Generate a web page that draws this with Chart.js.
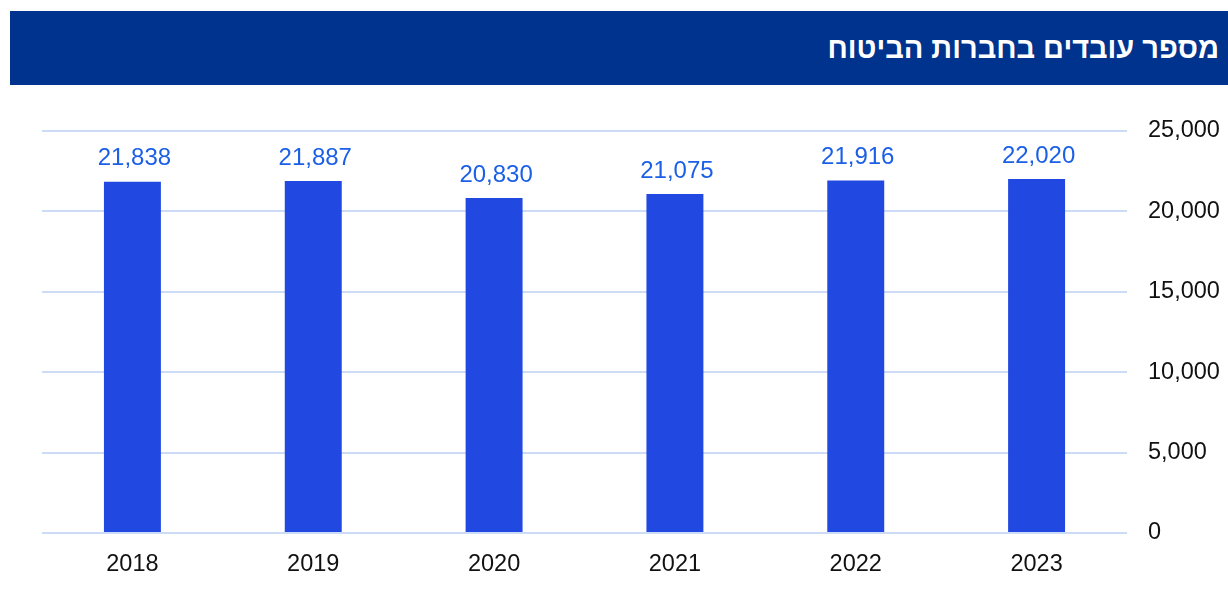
<!DOCTYPE html>
<html lang="he">
<head>
<meta charset="utf-8">
<script src="https://cdn.jsdelivr.net/npm/chart.js@4/dist/chart.umd.min.js"></script>
<style>
  html, body { margin: 0; padding: 0; background: #ffffff; }
  #wrap { position: relative; width: 1228px; height: 615px; overflow: hidden; }
  #title {
    position: absolute; left: 10px; top: 11px; width: 1218px; height: 74px;
    background: #00338d; color: #ffffff;
    font-family: "Liberation Sans", Arial, sans-serif; font-weight: bold; font-size: 29px;
    direction: rtl; text-align: right; box-sizing: border-box; padding-right: 9px;
    line-height: 75px; white-space: nowrap;
  }
  #chartBox { position: absolute; left: 0; top: 0; width: 1228px; height: 615px; }
</style>
</head>
<body>
<div id="wrap">
  <div id="chartBox"><canvas id="c"></canvas></div>
  <div id="title">מספר עובדים בחברות הביטוח</div>
</div>
<script>
// Employees in insurance companies, per year
const years = ['2018', '2019', '2020', '2021', '2022', '2023'];
const employees = [21838, 21887, 20830, 21075, 21916, 22020];
const yTicks = [0, 5000, 10000, 15000, 20000, 25000];

const fmt = v => v.toLocaleString('en-US');
const FONT = '"Liberation Sans", Arial, sans-serif';

// Writes each bar's value above it
const valueLabels = {
  id: 'valueLabels',
  afterDatasetsDraw(chart) {
    const ctx = chart.ctx;
    const meta = chart.getDatasetMeta(0);
    ctx.save();
    ctx.font = '24px ' + FONT;
    ctx.fillStyle = '#1a5fe6';
    ctx.textAlign = 'center';
    ctx.textBaseline = 'middle';
    meta.data.forEach((bar, i) => {
      ctx.fillText(fmt(chart.data.datasets[0].data[i]), bar.x + 2, bar.y - 23);
    });
    ctx.restore();
  }
};

new Chart(document.getElementById('c'), {
  type: 'bar',
  data: {
    labels: years,
    datasets: [{
      data: employees,
      backgroundColor: '#2149e2',
      borderWidth: 0,
      categoryPercentage: 1,
      barPercentage: 0.315
    }]
  },
  options: {
    responsive: true,
    maintainAspectRatio: false,
    animation: false,
    layout: { padding: { left: 42, top: 131, right: 0, bottom: 0 } },
    plugins: { legend: { display: false }, tooltip: { enabled: false }, title: { display: false } },
    scales: {
      x: {
        grid: { display: false, drawTicks: false },
        border: { display: false },
        ticks: { color: '#111111', font: { size: 23.5, family: FONT }, padding: 17 },
        afterFit(s) { s.height = 82; }
      },
      y: {
        position: 'right',
        min: 0, max: 25000,
        afterBuildTicks(s) { s.ticks = yTicks.map(v => ({ value: v })); },
        grid: { color: '#cddcf6', lineWidth: 2, drawTicks: false },
        border: { display: false },
        ticks: {
          color: '#111111',
          font: { size: 23.5, family: FONT },
          padding: 21,
          callback: v => fmt(v)
        },
        afterFit(s) { s.width = 101; }
      }
    }
  },
  plugins: [valueLabels]
});
</script>
</body>
</html>
